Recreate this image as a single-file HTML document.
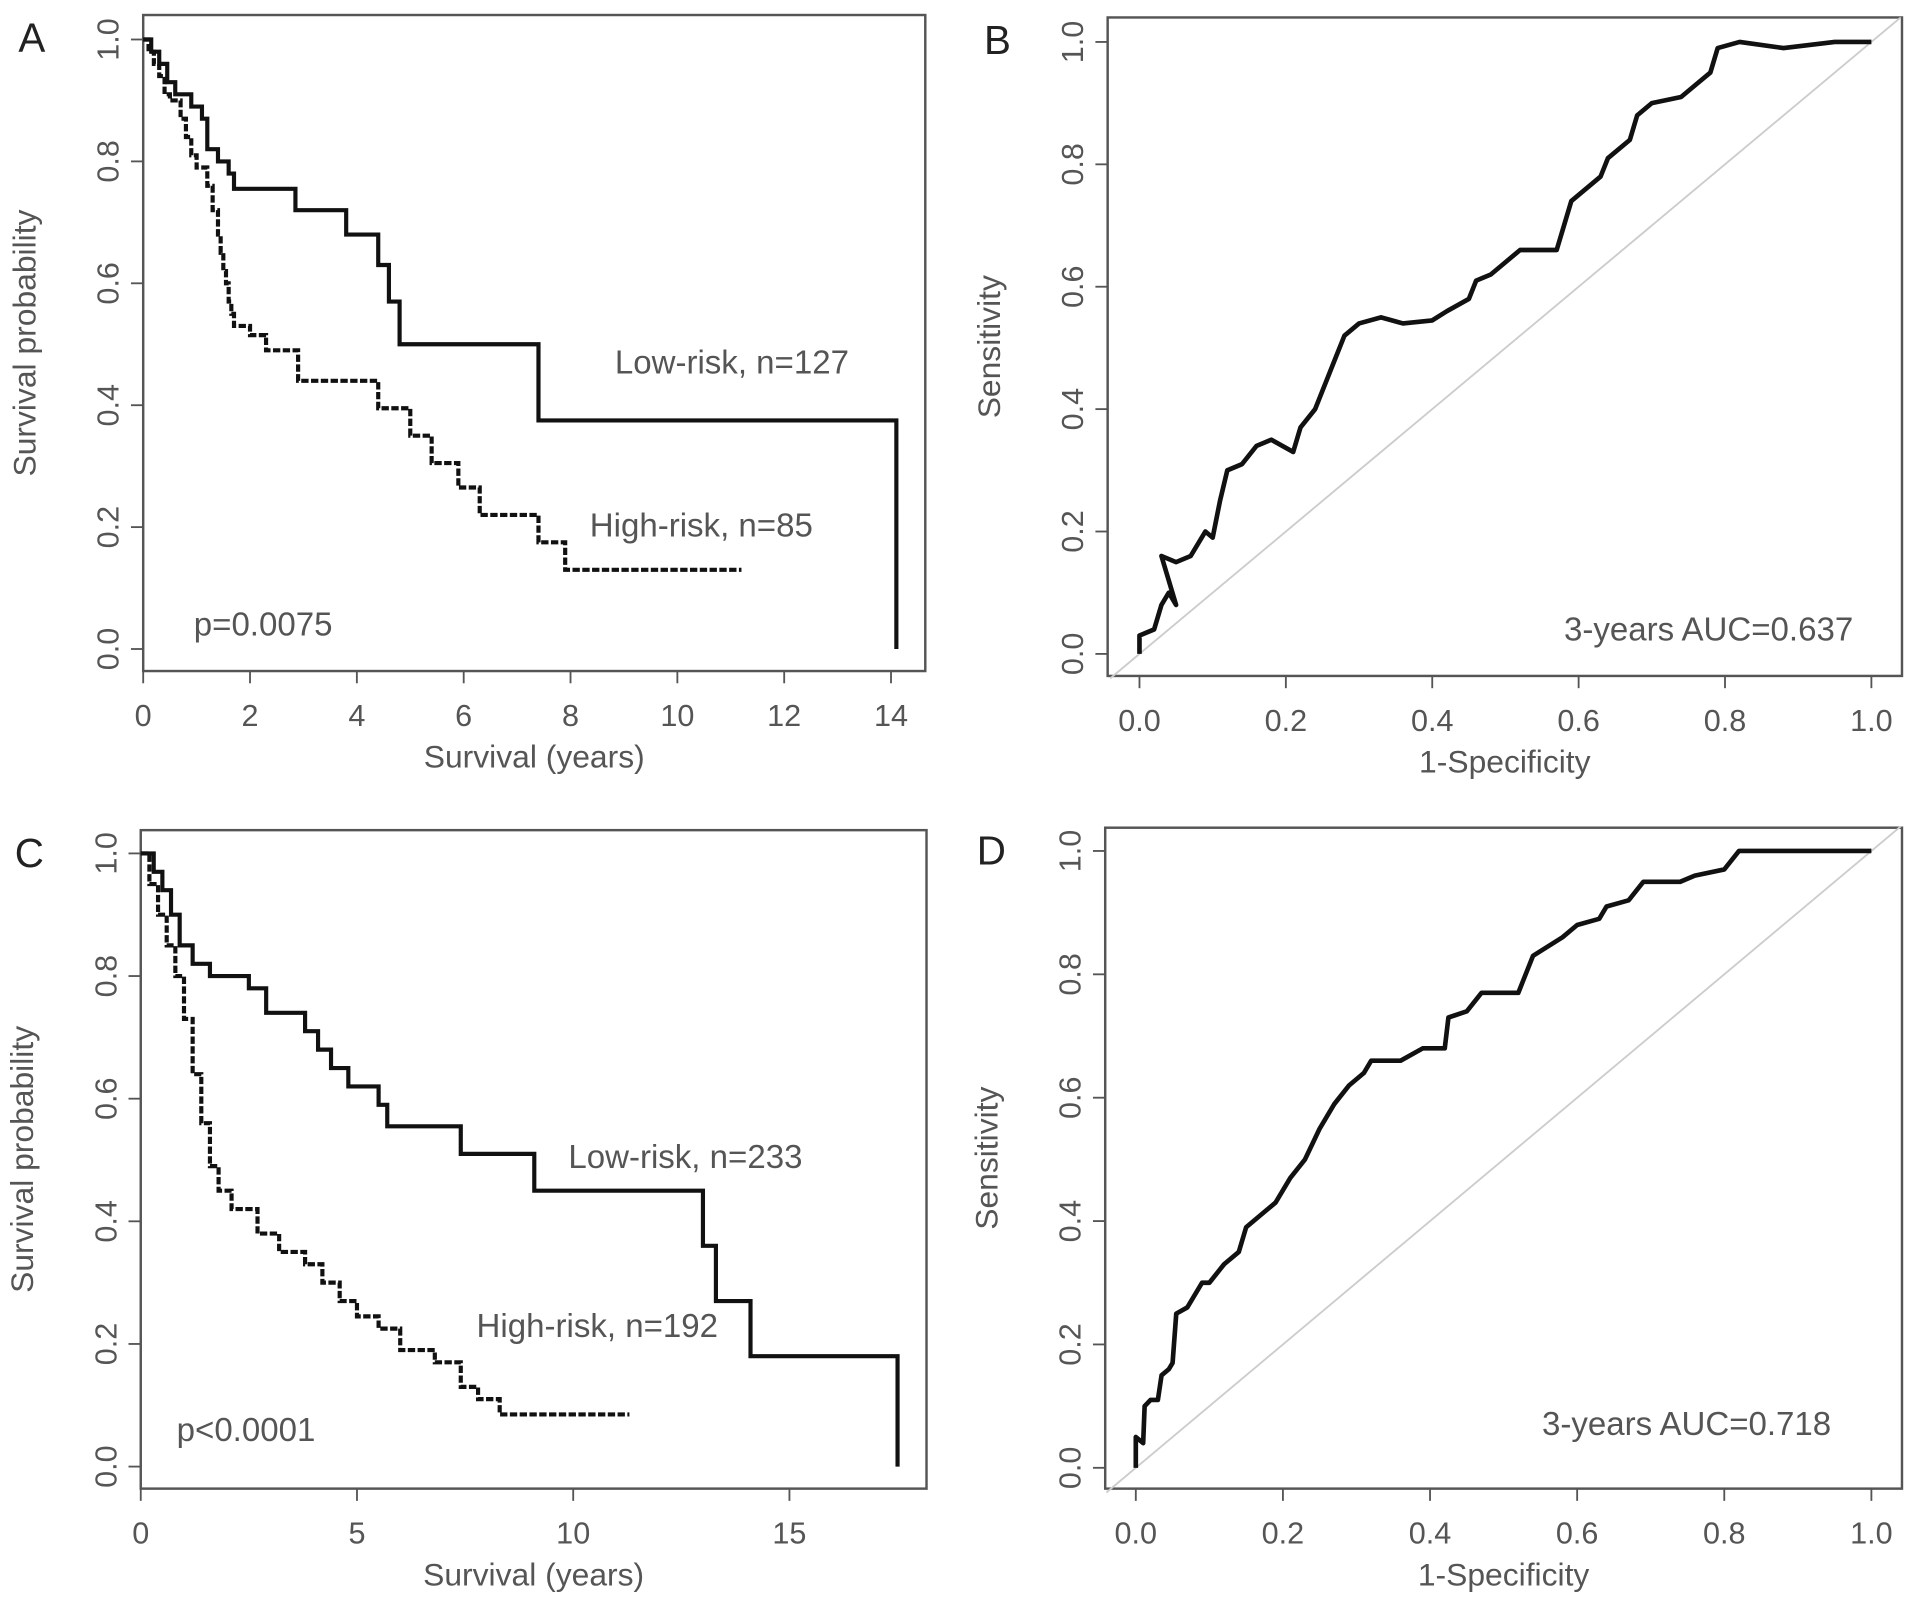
<!DOCTYPE html>
<html><head><meta charset="utf-8"><style>
html,body{margin:0;padding:0;background:#fff;}
svg{display:block;font-family:"Liberation Sans",Arial,sans-serif;}
</style></head><body>
<svg id="fig" width="1913" height="1604" viewBox="0 0 1563 1310" xmlns="http://www.w3.org/2000/svg"></svg>
<script>
// ---- Data ----
const kmA_low_t = [0,0.15,0.3,0.45,0.6,0.9,1.1,1.2,1.4,1.6,1.7,2.85,3.8,4.4,4.6,4.8,7.4,14.1];
const kmA_low_s = [1,0.98,0.96,0.93,0.91,0.89,0.87,0.82,0.80,0.78,0.755,0.72,0.68,0.63,0.57,0.50,0.375,0];
const kmA_high_t = [0,0.1,0.2,0.3,0.4,0.5,0.7,0.8,0.9,1.0,1.2,1.3,1.4,1.45,1.5,1.55,1.6,1.65,1.7,2.0,2.3,2.9,4.4,5.0,5.4,5.9,6.3,7.4,7.9];
const kmA_high_s = [1,0.98,0.96,0.94,0.91,0.90,0.87,0.84,0.81,0.79,0.76,0.72,0.68,0.65,0.62,0.60,0.57,0.55,0.53,0.515,0.49,0.44,0.395,0.35,0.305,0.265,0.22,0.175,0.13];
const kmA_high_end = 11.2;
const kmC_low_t = [0,0.3,0.5,0.7,0.9,1.2,1.6,2.5,2.9,3.8,4.1,4.4,4.8,5.5,5.7,7.4,9.1,13.0,13.3,14.1,17.5];
const kmC_low_s = [1,0.97,0.94,0.90,0.85,0.82,0.80,0.78,0.74,0.71,0.68,0.65,0.62,0.59,0.555,0.51,0.45,0.36,0.27,0.18,0];
const kmC_high_t = [0,0.2,0.4,0.6,0.8,1.0,1.2,1.4,1.6,1.8,2.1,2.7,3.2,3.8,4.2,4.6,5.0,5.5,6.0,6.8,7.4,7.8,8.3];
const kmC_high_s = [1,0.95,0.90,0.85,0.80,0.73,0.64,0.56,0.49,0.45,0.42,0.38,0.35,0.33,0.30,0.27,0.245,0.225,0.19,0.17,0.13,0.11,0.085];
const kmC_high_end = 11.3;
const rocB_fpr = [0,0,0.02,0.03,0.04,0.05,0.04,0.03,0.05,0.07,0.09,0.10,0.11,0.12,0.14,0.16,0.18,0.21,0.22,0.24,0.25,0.26,0.27,0.28,0.30,0.33,0.36,0.40,0.42,0.45,0.46,0.48,0.50,0.52,0.57,0.58,0.59,0.61,0.63,0.64,0.67,0.68,0.70,0.74,0.76,0.78,0.79,0.82,0.88,0.95,1];
const rocB_tpr = [0,0.03,0.04,0.08,0.10,0.08,0.12,0.16,0.15,0.16,0.20,0.19,0.25,0.30,0.31,0.34,0.35,0.33,0.37,0.40,0.43,0.46,0.49,0.52,0.54,0.55,0.54,0.545,0.56,0.58,0.61,0.62,0.64,0.66,0.66,0.70,0.74,0.76,0.78,0.81,0.84,0.88,0.90,0.91,0.93,0.95,0.99,1.0,0.99,1.0,1];
const rocD_fpr = [0,0,0.01,0.012,0.02,0.03,0.035,0.045,0.05,0.055,0.07,0.09,0.10,0.12,0.14,0.15,0.17,0.19,0.21,0.23,0.25,0.27,0.29,0.31,0.32,0.36,0.39,0.42,0.425,0.45,0.47,0.52,0.54,0.58,0.60,0.63,0.64,0.67,0.69,0.74,0.76,0.80,0.82,0.90,1];
const rocD_tpr = [0,0.05,0.04,0.10,0.11,0.11,0.15,0.16,0.17,0.25,0.26,0.30,0.30,0.33,0.35,0.39,0.41,0.43,0.47,0.50,0.55,0.59,0.62,0.64,0.66,0.66,0.68,0.68,0.73,0.74,0.77,0.77,0.83,0.86,0.88,0.89,0.91,0.92,0.95,0.95,0.96,0.97,1.0,1.0,1];
const yTicks = [0,0.2,0.4,0.6,0.8,1.0];
const yTickLabels = ["0.0","0.2","0.4","0.6","0.8","1.0"];
const xTicksA = [0,2,4,6,8,10,12,14];
const xTicksC = [0,5,10,15];
const xTicksROC = [0,0.2,0.4,0.6,0.8,1.0];

const NS="http://www.w3.org/2000/svg";
const svg=document.getElementById('fig');
function mk(tag,attrs,parent){const e=document.createElementNS(NS,tag);for(const k in attrs)e.setAttribute(k,attrs[k]);(parent||svg).appendChild(e);return e;}
function txt(s,x,y,size,fill,anchor,rot,parent){const e=mk('text',{x:x,y:y,'font-size':size,fill:fill,'text-anchor':anchor||'middle'},parent);if(rot)e.setAttribute('transform','rotate(-90 '+x+' '+y+')');e.textContent=s;return e;}

function panel(p){
  const g=mk('g',{});
  
  
  const sx=v=>p.x0+(v-p.xmin)*(p.x1-p.x0)/(p.xmax-p.xmin);
  const sy=v=>p.y0+(v)*(p.y1-p.y0);
  const box=mk('rect',{x:p.bx0,y:p.by0,width:p.bx1-p.bx0,height:p.by1-p.by0,fill:'none',stroke:'#555','stroke-width':2},g);
  
  const ya=mk('g',{},g);
  yTicks.forEach((v,i)=>{mk('line',{x1:p.bx0,x2:p.bx0-10,y1:sy(v),y2:sy(v),stroke:'#555','stroke-width':1.5},ya);
    const t=txt(yTickLabels[i],p.bx0-20,sy(v),25,'#555','middle',true,ya);});
  const yt=txt(p.ylab,p.bx0-88,(p.by0+p.by1)/2,26,'#555','middle',true,g);
  const xa=mk('g',{},g);
  mk('line',{x1:sx(p.xt[0]),x2:sx(p.xt[p.xt.length-1]),y1:p.by1,y2:p.by1,stroke:'#555','stroke-width':1.5},xa);
  p.xt.forEach(v=>{mk('line',{x1:sx(v),x2:sx(v),y1:p.by1,y2:p.by1+10,stroke:'#555','stroke-width':1.5},xa);
    const t=txt(p.fmt(v),sx(v),p.by1+45,25,'#555','middle',false,xa);});
  const xt=txt(p.xlab,(p.bx0+p.bx1)/2,p.by1+79,26,'#555','middle',false,g);
  const L=txt(p.id,p.lx,p.by0+30,33,'#222','middle',false,g);
  return {g,sx,sy};
}
function km(P,t,s,end,dash,name){
  let d='M'+P.sx(t[0])+','+P.sy(s[0]);
  for(let i=1;i<t.length;i++){d+=' H'+P.sx(t[i])+' V'+P.sy(s[i]);}
  if(end!=null)d+=' H'+P.sx(end);
  const e=mk('path',{d:d,fill:'none',stroke:'#111','stroke-width':3.4},P.g);
  if(dash)e.setAttribute('stroke-dasharray','6 2');
  
}
function roc(P,f,t,name){
  const diag=mk('line',{x1:P.sx(-0.04),y1:P.sy(-0.04),x2:P.sx(1.04),y2:P.sy(1.04),stroke:'#ccc','stroke-width':1.5},P.g);
  
  let d='';f.forEach((v,i)=>{d+=(i?' L':'M')+P.sx(v)+','+P.sy(t[i]);});
  const e=mk('path',{d:d,fill:'none',stroke:'#111','stroke-width':3.8,'stroke-linejoin':'round'},P.g);
  
}
const f0=v=>String(v), f1=v=>v.toFixed(1);
const A=panel({id:'A',bx0:117,bx1:756,by0:12,by1:548,x0:117,x1:728,xmin:0,xmax:14,y0:530,y1:32,xt:xTicksA,fmt:f0,ylab:'Survival probability',xlab:'Survival (years)',lx:26});
km(A,kmA_low_t,kmA_low_s,null,false,'low-risk-curve');
km(A,kmA_high_t,kmA_high_s,kmA_high_end,true,'high-risk-curve');
[['Low-risk, n=127',598,305,'low-risk-label'],['High-risk, n=85',573,438,'high-risk-label'],['p=0.0075',215,519,'p-value']].forEach(a=>{const t=txt(a[0],a[1],a[2],27,'#555','middle',false,A.g);});
const B=panel({id:'B',bx0:905,bx1:1554,by0:14,by1:552,x0:931,x1:1529,xmin:0,xmax:1,y0:534,y1:34,xt:xTicksROC,fmt:f1,ylab:'Sensitivity',xlab:'1-Specificity',lx:815});
roc(B,rocB_fpr,rocB_tpr,'roc-curve');
{const t=txt('3-years AUC=0.637',1396,523,27,'#555','middle',false,B.g);}
const C=panel({id:'C',bx0:115,bx1:757,by0:678,by1:1216,x0:115,x1:645,xmin:0,xmax:15,y0:1198,y1:697,xt:xTicksC,fmt:f0,ylab:'Survival probability',xlab:'Survival (years)',lx:24});
km(C,kmC_low_t,kmC_low_s,null,false,'low-risk-curve');
km(C,kmC_high_t,kmC_high_s,kmC_high_end,true,'high-risk-curve');
[['Low-risk, n=233',560,954,'low-risk-label'],['High-risk, n=192',488,1092,'high-risk-label'],['p<0.0001',201,1177,'p-value']].forEach(a=>{const t=txt(a[0],a[1],a[2],27,'#555','middle',false,C.g);});
const D=panel({id:'D',bx0:903,bx1:1554,by0:676,by1:1216,x0:928,x1:1529,xmin:0,xmax:1,y0:1199,y1:695,xt:xTicksROC,fmt:f1,ylab:'Sensitivity',xlab:'1-Specificity',lx:810});
roc(D,rocD_fpr,rocD_tpr,'roc-curve');
{const t=txt('3-years AUC=0.718',1378,1172,27,'#555','middle',false,D.g);}
</script>
</body></html>
